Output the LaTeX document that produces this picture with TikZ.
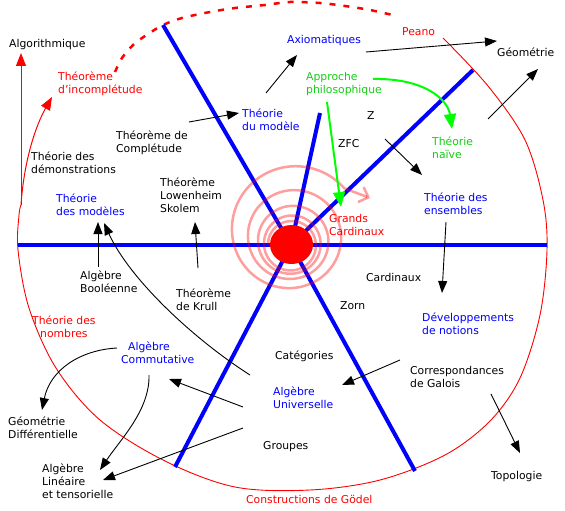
\documentclass[tikz,border=0pt]{standalone}
\usepackage{fontspec}
\setmainfont{DejaVu Sans}
\usetikzlibrary{arrows.meta}
\definecolor{tblue}{RGB}{0,0,255}
\definecolor{tred}{RGB}{255,0,0}
\definecolor{tgreen}{RGB}{20,205,20}
\definecolor{lgreen}{RGB}{0,255,0}
\begin{document}
\begin{tikzpicture}[x=1pt,y=-1pt,
  lbl/.style={inner sep=0pt, anchor=north west, align=left, font=\fontsize{10.8}{13.3}\selectfont},
  arr/.style={line width=0.9pt, -{Triangle[length=12pt,width=9pt]}},
  redarr/.style={tred, line width=1pt, -{Triangle[length=13pt,width=10pt]}},
  grarr/.style={lgreen, line width=2pt, -{Triangle[length=15pt,width=12pt]}},
  axisline/.style={tblue, line width=4pt},
  outline/.style={tred, line width=0.9pt},
  spiralline/.style={tred, opacity=0.38, line width=2.5pt}]
\useasboundingbox (0,0) rectangle (565,511);

% outer red loop
\draw[outline] plot[smooth, tension=0.55] coordinates {(443,38) (488,86) (525,140) (543,200) (547,250) (540,315) (520,378) (490,421) (445,455) (380,480) (310,490) (235,487) (165,461) (100,420) (56,368) (29,308) (18,250) (19,215) (21,205)};
\draw[tred, line width=2.5pt, dash pattern=on 6pt off 8pt] plot[smooth] coordinates {(115,72) (122,58) (133,45) (145,36) (163,25) (182,18) (210,12) (235,8) (265,5) (290,2) (320,3) (345,6) (370,10) (397,16)};

% coordinates
\coordinate (cen) at (291,245);
\coordinate (e1) at (163,25);
\coordinate (e2) at (175,467);
\coordinate (e3) at (415,471);
\coordinate (e4) at (473,70);
\coordinate (e5) at (320,113);
\coordinate (hl) at (18,245);
\coordinate (hr) at (547,245);

% blue lines
\draw[axisline] (hl) -- (hr);
\draw[axisline] (e1) -- (cen);
\draw[axisline] (e2) -- (cen);
\draw[axisline] (e3) -- (cen);
\draw[axisline] (e4) -- (cen);
\draw[axisline] (e5) -- (cen);

% spiral
\coordinate (sptip) at (370,198);
\draw[spiralline, -{Straight Barb[length=8pt,width=16pt]}] plot[domain=0:4.4, samples=320, smooth, variable=\t]
  ({291+(23+3.667*\t+0.3333*\t^3)*cos(180-360*\t)}, {245-0.8*\t^2-(23+3.667*\t+0.3333*\t^3)*sin(180-360*\t)}) -- (sptip);

% central blob
\fill[tred] (291.5,244.5) ellipse [x radius=21.5pt, y radius=19.5pt];

% texts
\node[lbl] (algo) at (9,37.7) {\strut Algorithmique};
\node[lbl, text=tred] (incompl) at (58,70.7) {\strut Théorème\\d'incomplétude};
\node[lbl] (complet) at (116,129.7) {\strut Théorème de\\Complétude};
\node[lbl, text=tblue] (tmodele) at (242,107.7) {\strut Théorie\\du modèle};
\node[lbl, text=tblue] (axiom) at (287,33.7) {\strut Axiomatiques};
\node[lbl, text=tred] (peano) at (402,25.7) {\strut Peano};
\node[lbl] (geom) at (497,46.7) {\strut Géométrie};
\node[lbl, text=tgreen] (approche) at (306,70.7) {\strut Approche\\philosophique};
\node[lbl] (zz) at (367,109.7) {\strut Z};
\node[lbl] (zfc) at (338,137.7) {\strut ZFC};
\node[lbl, text=tgreen] (naive) at (432,135.7) {\strut Théorie\\naïve};
\node[lbl] (tdemo) at (31,150.7) {\strut Théorie des\\démonstrations};
\node[lbl, text=tblue] (tmodeles) at (56,192.7) {\strut Théorie\\des modèles};
\node[lbl] (lowen) at (160,176.7) {\strut Théorème\\Lowenheim\\Skolem};
\node[lbl] (boole) at (80,269.7) {\strut Algèbre\\Booléenne};
\node[lbl] (krull) at (176,287.7) {\strut Théorème\\de Krull};
\node[lbl, text=tred, align=center] (nombres) at (32,314.7) {\strut Théorie des\\nombres};
\node[lbl, text=tred] (grands) at (329,212.7) {\strut Grands\\Cardinaux};
\node[lbl, text=tblue] (ensembles) at (424,191.7) {\strut Théorie des\\ensembles};
\node[lbl] (cardinaux) at (366,271.7) {\strut Cardinaux};
\node[lbl] (zorn) at (340,299.7) {\strut Zorn};
\node[lbl, text=tblue] (dev) at (422,311.7) {\strut Développements\\de notions};
\node[lbl, text=tblue] (commut) at (121,340.7) {\strut\hspace*{7pt}Algèbre\\Commutative};
\node[lbl] (categ) at (275,349.7) {\strut Catégories};
\node[lbl, text=tblue] (univ) at (273,385.7) {\strut Algèbre\\Universelle};
\node[lbl] (galois) at (410,364.7) {\strut Correspondances\\de Galois};
\node[lbl] (geomdiff) at (8,415.7) {\strut Géométrie\\Différentielle};
\node[lbl] (groupes) at (263,439.7) {\strut Groupes};
\node[lbl] (lineaire) at (42,462.7) {\strut Algèbre\\Linéaire\\et tensorielle};
\node[lbl] (topo) at (491,469.7) {\strut Topologie};
\node[lbl, text=tred] (godel) at (246,493.7) {\strut Constructions de Gödel};

% connector end points
\coordinate (a1) at (189,122); \coordinate (a2) at (239,113);
\coordinate (b1) at (266,93);  \coordinate (b2) at (297,55);
\coordinate (c1) at (366,52);  \coordinate (c2) at (497,41);
\coordinate (d1) at (488,119); \coordinate (d2) at (538,69);
\coordinate (g1) at (385,139); \coordinate (g2) at (422,175);
\coordinate (h1) at (446,222); \coordinate (h2) at (442,293);
\coordinate (i1) at (98,267);  \coordinate (i2) at (98,222);
\coordinate (j1) at (250,375); \coordinate (j2) at (104,223);
\coordinate (k1) at (198,268); \coordinate (k2) at (195,222);
\coordinate (l1) at (117,348); \coordinate (l2) at (42,410);
\coordinate (m1) at (149,375); \coordinate (m2) at (100,470);
\coordinate (n1) at (243,407); \coordinate (n2) at (169,379);
\coordinate (o1) at (243,428); \coordinate (o2) at (103,480);
\coordinate (p1) at (400,360); \coordinate (p2) at (342,385);
\coordinate (q1) at (491,394); \coordinate (q2) at (520,453);
\coordinate (gr1) at (373,79); \coordinate (gr2) at (452,129);
\coordinate (gs1) at (327,102); \coordinate (gs2) at (341,207);
\coordinate (r0) at (21,205); \coordinate (r1) at (21,53); \coordinate (r2) at (52,97);

% black arrows
\draw[arr] (a1) -- (a2);
\draw[arr] (b1) -- (b2);
\draw[arr] (c1) -- (c2);
\draw[arr] (d1) -- (d2);
\draw[arr] (g1) -- (g2);
\draw[arr] (h1) -- (h2);
\draw[arr] (i1) -- (i2);
\draw[arr] (j1) .. controls (195,340) and (130,280) .. (j2);
\draw[arr] (k1) -- (k2);
\draw[arr] (l1) .. controls (80,350) and (50,370) .. (l2);
\draw[arr] (m1) .. controls (150,410) and (120,440) .. (m2);
\draw[arr] (n1) -- (n2);
\draw[arr] (o1) -- (o2);
\draw[arr] (p1) -- (p2);
\draw[arr] (q1) -- (q2);

% green arrows
\draw[grarr] (gr1) .. controls (425,78) and (448,100) .. (gr2);
\draw[grarr] (gs1) -- (gs2);

% red arrows
\draw[redarr] (r0) -- (r1);
\draw[redarr] (r0) .. controls (24,160) and (36,125) .. (r2);
\end{tikzpicture}
\end{document}
